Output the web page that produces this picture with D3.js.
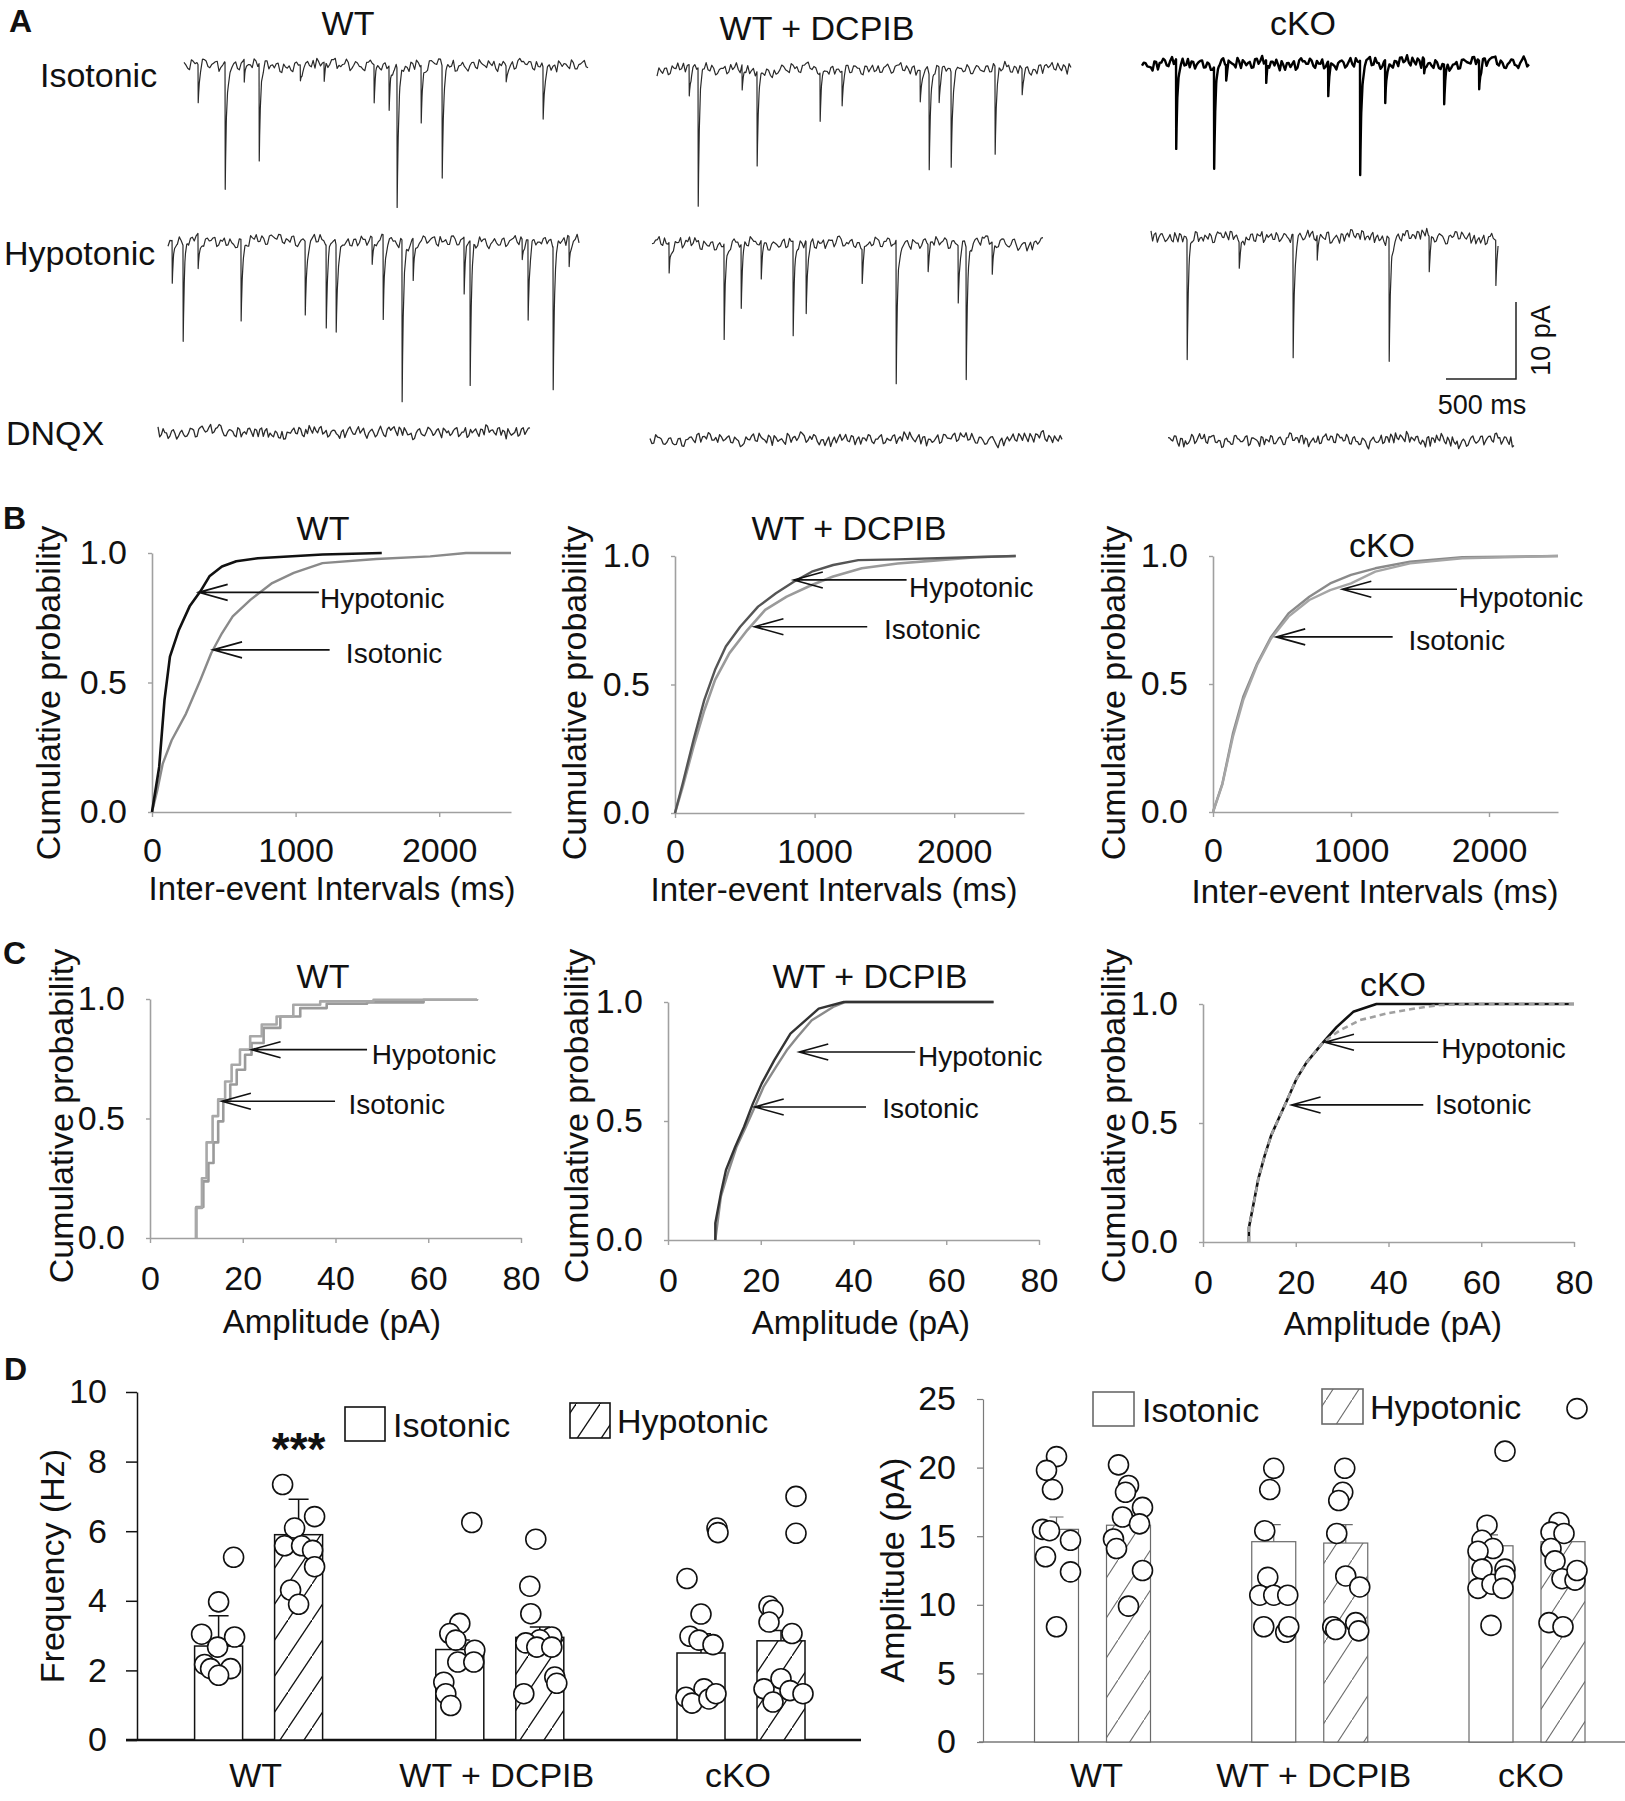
<!DOCTYPE html>
<html><head><meta charset="utf-8">
<script src="https://cdn.jsdelivr.net/npm/d3@7/dist/d3.min.js"></script>
<style>
html,body{margin:0;padding:0;background:#fff;}
svg text{font-family:"Liberation Sans",Arial,Helvetica,sans-serif;fill:#111;}
</style></head>
<body>
<svg id="fig" width="1625" height="1801" viewBox="0 0 1625 1801"></svg>
<script>
// ================= DATA =================
const groups = ["WT", "WT + DCPIB", "cKO"];
const conditions = ["Isotonic", "Hypotonic"];
const rowLabels = ["Isotonic", "Hypotonic", "DNQX"];

// Panel A: sweep durations (ms) and events [time ms, amplitude pA]
const traceDurIso  = [2886, 2957, 2764];
const traceDurHypo = [2936, 2793, 2479];
const traceDurDnqx = [2657, 2943, 2471];
const eventsIsoWT    = [[100,4.9],[293,16.5],[429,3],[536,12.7],[830,2.0],[1000,2.5],[1357,5],[1464,5.8],[1521,18],[1693,7.5],[1843,14.5],[2300,2.0],[2564,6.7]];
const eventsIsoDCPIB = [[229,4],[293,18],[607,3.3],[714,12.3],[1164,6.4],[1321,4.5],[1879,4],[1943,12.3],[2014,4.5],[2100,12.3],[2414,11.4],[2607,3.3]];
const eventsIsoCKO   = [[243,11.7],[514,13.2],[600,2],[886,3],[1329,4.5],[1557,14.9],[1736,5.6],[2014,1.8],[2157,5.2],[2407,3.7]];
const eventsHypoWT    = [[29,5.6],[107,12.6],[214,4.5],[521,10.6],[979,9.5],[1129,10.8],[1200,11.2],[1457,3.5],[1536,11],[1671,21],[1750,5.5],[2114,7.4],[2157,18.8],[2529,2.6],[2571,10.4],[2750,18.6],[2864,3.9]];
const eventsHypoDCPIB = [[121,4],[514,12.5],[636,8.3],[779,5],[1007,12.3],[1100,9.3],[1500,4.4],[1743,18.7],[1971,3.5],[2186,7.4],[2243,17.1],[2429,4.2]];
const eventsHypoCKO   = [[257,15.5],[629,3.3],[1014,16],[1186,3.3],[1700,16],[1986,4.6],[2462,5.9]];
const noiseIso = [0.4,-0.3,0.6,0.1,-0.2,0.7,0.3,-0.4,0.2,0.5,-0.1,0.6,-0.5,0.0,0.4,-0.6,0.3,0.1,-0.2,0.5,
 -0.3,0.2,0.6,-0.4,0.1,0.3,-0.5,0.4,0.0,-0.2,0.5,0.2,-0.6,0.3,-0.1,0.4,0.6,-0.3,0.1,-0.4,
 0.3,0.5,-0.2,0.0,0.7,-0.5,0.2,0.4,-0.1,-0.6,0.3,0.1,0.5,-0.3,0.2,-0.2,0.6,0.0,-0.4,0.4,
 0.2,-0.5,0.3,0.6,-0.2,0.1,-0.6,0.4,0.0,0.5,-0.3,0.2,-0.1,0.7,-0.4,0.3,0.1,-0.5,0.4,-0.2,
 0.6,0.0,-0.3,0.2,0.5,-0.6,0.1,0.3,-0.2,0.4,-0.4,0.6,0.2,-0.1,0.3,-0.5,0.0,0.5,-0.3,0.4,
 0.1,-0.6,0.3,0.2,-0.2,0.6,-0.4,0.1,0.4,-0.1];
const noiseHypo = [-0.2,0.5,0.1,-0.5,0.4,0.0,0.6,-0.3,0.2,-0.1,0.5,-0.6,0.3,0.1,-0.2,0.7,-0.4,0.2,0.0,0.4,
 -0.5,0.3,0.6,-0.1,0.2,-0.4,0.5,0.0,-0.3,0.6,0.1,-0.2,0.4,-0.6,0.3,0.2,-0.1,0.5,-0.4,0.1,
 0.6,-0.3,0.0,0.4,-0.5,0.2,0.7,-0.2,0.1,-0.4,0.5,0.3,-0.6,0.2,0.0,0.6,-0.3,0.4,-0.1,0.2,
 -0.5,0.5,0.1,-0.2,0.6,-0.4,0.3,0.0,-0.3,0.5,0.2,-0.6,0.4,0.1,-0.1,0.6,-0.3,0.2,0.5,-0.5,
 0.0,0.3,-0.2,0.7,-0.4,0.1,0.4,-0.1,0.2,-0.6,0.5,0.3,-0.3,0.0,0.6,-0.2,0.4,-0.5,0.1,0.3,
 -0.1,0.5,-0.4,0.2,0.6,-0.3,0.0,0.4,-0.2,0.3];
const noiseDnqx = [0.3,-0.4,0.2,0.6,-0.2,0.1,-0.5,0.4,0.2,-0.1,0.5,-0.3,0.0,0.4,-0.6,0.2,0.5,-0.2,0.3,-0.4,
 0.1,0.6,-0.1,-0.5,0.3,0.2,-0.3,0.5,0.0,-0.2,0.4,-0.6,0.1,0.3,-0.4,0.6,0.2,-0.1,0.4,-0.3,
 -0.5,0.2,0.0,0.5,-0.2,0.3,-0.6,-0.3,0.1,0.4,-0.2,0.6,0.0,-0.4,0.3,0.5,-0.1,0.2,-0.5,0.4,
 0.1,-0.3,0.6,0.2,-0.2,0.0,0.5,-0.4,0.3,0.1,-0.6,0.4,0.2,-0.1,0.5,-0.3,0.3,0.0,-0.5,0.2,
 0.6,-0.2,0.1,0.4,-0.4,0.2,-0.1,0.5,0.0,-0.3,0.3,0.6,-0.2,0.1,-0.5,0.4,0.2,-0.1,0.3,-0.4,
 0.5,0.0,-0.2,0.4,-0.3,0.2,0.6,-0.1,0.1,-0.4];
const baselineWander = [0.0,0.35,-0.2,0.45,0.1,-0.35,0.25,0.5,-0.15,0.3,-0.45,0.1,0.35,-0.25,0.2,-0.1,0.4,-0.3,0.15,0.0];
const scaleBarTime = 500, scaleBarAmp = 10;

// Panel B: cumulative inter-event intervals [ms, probability]
const ieiTicks = [0, 1000, 2000];
const probTicks = [0, 0.5, 1.0];
const ieiWTHypo = [[0,0],[50,0.174],[87,0.432],[125,0.6],[187,0.703],[262,0.794],[337,0.852],[400,0.91],[487,0.948],[587,0.968],[737,0.98],[1187,0.994],[1600,1.0]];
const ieiWTIso  = [[0,0],[37,0.084],[75,0.187],[137,0.277],[237,0.38],[337,0.51],[412,0.613],[487,0.69],[562,0.755],[687,0.82],[837,0.884],[987,0.923],[1187,0.961],[1562,0.977],[1937,0.987],[2187,1.0],[2500,1.0]];
const ieiDCPIBHypo = [[0,0],[56,0.117],[133,0.285],[210,0.44],[287,0.557],[364,0.648],[467,0.725],[595,0.803],[723,0.855],[851,0.9],[980,0.939],[1133,0.965],[1313,0.984],[1595,0.987],[2108,0.995],[2441,1.0]];
const ieiDCPIBIso  = [[0,0],[56,0.104],[133,0.259],[210,0.4],[287,0.518],[390,0.622],[518,0.712],[646,0.79],[800,0.842],[980,0.887],[1133,0.92],[1338,0.952],[1595,0.971],[1851,0.982],[2159,0.995],[2441,1.0]];
const ieiCKOHypo = [[0,0],[68,0.108],[144,0.293],[219,0.437],[320,0.574],[421,0.678],[547,0.763],[698,0.828],[849,0.867],[1000,0.893],[1176,0.939],[1428,0.971],[1806,0.991],[2500,1.0]];
const ieiCKOIso  = [[0,0],[68,0.111],[144,0.306],[219,0.45],[320,0.58],[421,0.684],[547,0.776],[698,0.841],[849,0.893],[1000,0.926],[1176,0.952],[1428,0.978],[1806,0.995],[2500,1.0]];

// Panel C: cumulative amplitudes [pA, probability]
const ampTicks = [0, 20, 40, 60, 80];
const ampWTHypo = [[9.9,0],[9.9,0.126],[11.2,0.25],[12.2,0.40],[13.5,0.51],[14.7,0.58],[16.2,0.655],[17.6,0.725],[19.4,0.788],[21.6,0.844],[24.1,0.893],[27.3,0.927],[30.9,0.976],[36.7,0.99],[48.2,0.997],[70.5,1.0]];
const ampWTIso  = [[10,0],[10,0.13],[11.5,0.237],[12.6,0.314],[13.7,0.40],[14.7,0.488],[15.8,0.572],[17.3,0.642],[18.7,0.704],[20.5,0.767],[21.9,0.816],[24.5,0.879],[28.1,0.927],[32.4,0.962],[38.1,0.98],[46.8,0.986],[59,0.997],[70.5,1.0]];
const ampDCPIBHypo = [[10.2,0],[10.2,0.07],[11.4,0.196],[12.5,0.294],[14.5,0.392],[16.4,0.476],[18.3,0.573],[20.2,0.657],[22.9,0.755],[26.4,0.867],[32.5,0.972],[37.9,1.0],[70.2,1.0]];
const ampDCPIBIso  = [[10.2,0],[11.4,0.182],[12.9,0.28],[14.8,0.392],[16.8,0.476],[18.7,0.559],[20.6,0.643],[23.3,0.727],[25.6,0.797],[27.9,0.853],[31,0.923],[35.6,0.979],[38.3,1.0],[70.2,1.0]];
const ampCKOHypo = [[9.9,0],[9.9,0.06],[10.8,0.15],[11.9,0.263],[13.3,0.363],[14.7,0.448],[16.5,0.526],[18,0.59],[20.1,0.683],[22.3,0.754],[25.9,0.839],[28.8,0.903],[32.4,0.967],[37.4,1.0],[80,1.0]];
const ampCKOIso  = [[9.9,0],[9.9,0.06],[10.8,0.15],[11.9,0.263],[13.3,0.363],[14.7,0.448],[16.5,0.526],[18,0.59],[20.1,0.683],[22.3,0.754],[25.9,0.839],[29.5,0.889],[33.8,0.932],[39.6,0.96],[46,0.982],[51,0.996],[59.7,1.0],[80,1.0]];

// arrow annotations: [tipX, tipP, lineEndX, textX, textP, label] in data units
const annB = [
  [[325,0.848,1162,1170,0.826,"Hypotonic"],[425,0.626,1237,1350,0.613,"Isotonic"]],
  [[851,0.907,1659,1677,0.878,"Hypotonic"],[569,0.725,1377,1497,0.715,"Isotonic"]],
  [[937,0.87,1768,1781,0.838,"Hypotonic"],[458,0.684,1302,1416,0.671,"Isotonic"]]];
const annC = [
  [[21.9,0.788,46.8,47.8,0.767,"Hypotonic"],[15.5,0.572,39.9,42.8,0.558,"Isotonic"]],
  [[28.3,0.79,53.3,53.9,0.769,"Hypotonic"],[18.7,0.559,42.7,46.2,0.552,"Isotonic"]],
  [[26.3,0.839,50.7,51.4,0.815,"Hypotonic"],[19.1,0.576,47.5,50.0,0.576,"Isotonic"]]];

// Panel D: frequency (Hz)
const freqTicks = [0,2,4,6,8,10];
const freqIsoMean  = [2.7, 2.6, 2.5];
const freqIsoErr   = [0.87, 0.27, 0.55];
const freqHypoMean = [5.9, 2.95, 2.85];
const freqHypoErr  = [1.02, 0.3, 0.3];
const freqIso  = [[5.25,3.97,3.04,2.96,2.67,2.17,2.05,2.05,1.86],[6.25,3.35,3.06,2.87,2.58,2.24,2.24,1.66,1.33,0.99],[6.09,5.96,4.64,3.62,2.98,2.87,2.74,1.47,1.23,1.06,1.18,1.33]];
const freqHypo = [[7.34,6.42,6.09,5.58,5.58,5.45,4.98,4.31,3.9],[5.77,4.42,3.63,2.96,2.88,2.79,2.67,2.67,1.81,1.63,1.33],[7.0,5.94,3.85,3.73,3.39,3.06,1.47,1.76,1.42,1.33,1.09]];
const freqSig = ["***", "", ""];
// Panel D: amplitude (pA)
const ampBarTicks = [0,5,10,15,20,25];
const ampIsoMean  = [15.5, 14.6, 14.3];
const ampIsoErr   = [0.9, 1.25, 0.8];
const ampHypoMean = [15.8, 14.5, 14.6];
const ampHypoErr  = [0.5, 1.35, 0.7];
const ampIso  = [[20.8,19.8,18.4,15.5,15.4,14.7,13.5,12.4,8.4],[19.95,18.4,15.4,12.0,10.7,10.7,10.7,8.4,8.0,8.4],[21.2,15.8,14.7,14.1,13.9,12.6,12.6,11.2,11.5,12.1,11.2,8.5]];
const ampHypo = [[20.2,18.7,18.2,17.1,16.4,15.9,14.8,14.1,12.5,9.9],[19.95,18.2,17.6,15.2,12.1,11.3,8.4,8.7,8.1,8.2],[24.3,16.0,15.3,15.2,14.1,13.2,11.9,11.8,12.5,8.7,8.4]];

// ================= LAYOUT (positions / style) =================
const freqIsoJitter  = [[15,0,-17,16,-1,-14,-8,12,0],[12,0,-10,-4,15,-2,14,-16,-14,-9],[16,17,-14,0,-11,-2,12,3,-15,-9,8,15]];
const freqHypoJitter = [[-16,16,-4,-14,3,14,16,-8,0],[-4,-10,-9,12,0,-14,-3,12,15,17,-16],[15,15,-12,-8,-12,11,-17,0,9,22,-8]];
const ampIsoJitter   = [[0,-10,-4,-14,-7,14,-11,14,0],[0,-4,-9,-6,-14,0,14,-10,12,15],[14,-4,-9,2,-13,-9,14,-13,1,14,12,0]];
const ampHypoJitter  = [[-10,0,-3,14,-6,11,-15,-12,14,0],[-1,-3,-7,-9,0,14,-13,10,13,-10],[14,-4,-12,1,-12,-8,-1,12,14,-14,0]];

const FONT = '"Liberation Sans", Arial, Helvetica, sans-serif';
const svg = d3.select("#fig");
svg.append("rect").attr("width",1625).attr("height",1801).attr("fill","#fff");
const defs = svg.append("defs");

function label(x, y, s, size, anchor="start", weight="normal", rot=0, fill="#111") {
  const t = svg.append("text").attr("x",x).attr("y",y).attr("font-size",size)
    .attr("text-anchor",anchor).attr("dominant-baseline","central")
    .attr("font-weight",weight).attr("fill",fill).text(s);
  if (rot) t.attr("transform",`rotate(${rot},${x},${y})`);
  return t;
}

// Panel letters
label(9, 21, "A", 32, "start", "bold");
label(3, 518, "B", 32, "start", "bold");
label(3, 953, "C", 32, "start", "bold");
label(4, 1369, "D", 32, "start", "bold");

// ================= PANEL A =================
const colTitleX = [348, 817, 1303], colTitleY = [23, 28, 23];
groups.forEach((g,i) => label(colTitleX[i], colTitleY[i], g, 34, "middle"));
const rowLabelX = [40, 4, 6], rowLabelY = [75, 253, 433];
rowLabels.forEach((r,i) => label(rowLabelX[i], rowLabelY[i], r, 34));

function kernel(d){ if (d < 0) return 0; if (d < 1.5) return d/1.5; return Math.exp(-(d-1.5)/10); }
const sampleOffsets = [0, 1.5, 4, 9, 18, 35, 60];
// interleave two typed noise records to get a dense noise sequence
function interleave(a, b, sa, sb) {
  const out = [];
  for (let k = 0; k < a.length; k++) { out.push(a[(k + sa) % a.length]); out.push(b[(k + sb) % b.length]); }
  return out;
}
function drawTrace(x0, base, dur, events, noise, wanderShift, color, width) {
  const xs = d3.scaleLinear().domain([0, scaleBarTime]).range([x0, x0 + 70]);
  const ys = d3.scaleLinear().domain([0, -scaleBarAmp]).range([base, base + 77]);
  const n = noise.length, m = baselineWander.length;
  let ts = d3.range(n).map(i => i * dur / (n - 1));
  events.forEach(([t0]) => sampleOffsets.forEach(o => { if (t0 + o < dur) ts.push(t0 + o); }));
  ts = Array.from(new Set(ts.map(t => +t.toFixed(3)))).sort((a,b) => a - b);
  const interp = (arr, t, shift) => { const L = arr.length; const f = t / dur * (L - 1); const i = Math.min(Math.floor(f), L - 1); const r = f - i;
    const a = arr[(i + shift) % L], b = arr[(Math.min(i + 1, L - 1) + shift) % L]; return a * (1 - r) + b * r; };
  const val = t => 1.15 * interp(noise, t, 0) + interp(baselineWander, t, wanderShift) - d3.sum(events, ([t0, a]) => a * kernel(t - t0));
  svg.append("path").datum(ts)
    .attr("d", d3.line().x(t => xs(t)).y(t => ys(val(t))))
    .attr("fill","none").attr("stroke",color).attr("stroke-width",width)
    .attr("stroke-linejoin","round");
}
const isoX0 = [184, 657, 1142], isoBase = [66, 70, 64];
const hypoX0 = [168, 652, 1151], hypoBase = [242, 244, 238];
const dnqxX0 = [158, 650, 1168], dnqxBase = [433, 440, 441];
const eventsIso = [eventsIsoWT, eventsIsoDCPIB, eventsIsoCKO];
const eventsHypo = [eventsHypoWT, eventsHypoDCPIB, eventsHypoCKO];
[0,1,2].forEach(i => {
  drawTrace(isoX0[i], isoBase[i], traceDurIso[i], eventsIso[i], interleave(noiseIso, noiseDnqx, i*23, i*11+5), i*5,
            i===2 ? "#000" : "#2a2a2a", i===2 ? 2.4 : 1.2);
  drawTrace(hypoX0[i], hypoBase[i], traceDurHypo[i], eventsHypo[i], interleave(noiseHypo, noiseIso, i*31+7, i*13+40), i*5+2, "#2a2a2a", 1.2);
  drawTrace(dnqxX0[i], dnqxBase[i], traceDurDnqx[i], [], interleave(noiseDnqx, noiseHypo, i*19+3, i*29+60), i*5+4, "#2a2a2a", 1.3);
});
// scale bar
{
  const sx = d3.scaleLinear().domain([0, scaleBarTime]).range([0, 70]);
  const sy = d3.scaleLinear().domain([0, scaleBarAmp]).range([0, 77]);
  const cx = 1516, cy = 379;
  svg.append("path").attr("d", `M${cx - sx(scaleBarTime)},${cy}H${cx}V${cy - sy(scaleBarAmp)}`)
    .attr("fill","none").attr("stroke","#222").attr("stroke-width",1.5);
  label(cx - sx(scaleBarTime)/2 + 1, 405, scaleBarTime + " ms", 27, "middle");
  label(1541, cy - sy(scaleBarAmp)/2, scaleBarAmp + " pA", 27, "middle", "normal", -90);
}

// ================= PANELS B & C =================
function cdfPanel(cfg) {
  const x = d3.scaleLinear().domain(cfg.xDomain).range([cfg.x0, cfg.x1]);
  const y = d3.scaleLinear().domain([0, 1]).range([cfg.y0, cfg.y1]);
  const g = svg.append("g");
  const xa = g.append("g").attr("transform", `translate(0,${cfg.y0})`)
    .call(d3.axisBottom(x).tickValues(cfg.xTicks).tickSize(5).tickSizeOuter(0).tickPadding(cfg.xPad).tickFormat(d3.format("d")));
  const ya = g.append("g").attr("transform", `translate(${cfg.x0},0)`)
    .call(d3.axisLeft(y).tickValues(probTicks).tickSize(4).tickSizeOuter(0).tickPadding(21).tickFormat(d3.format(".1f")));
  [xa, ya].forEach(a => {
    a.select(".domain").attr("stroke","#a0a0a0").attr("stroke-width",1.6);
    a.selectAll(".tick line").attr("stroke","#a0a0a0").attr("stroke-width",1.4);
    a.selectAll("text").attr("font-size",34).attr("fill","#111").style("font-family",FONT);
  });
  cfg.series.forEach(s => {
    g.append("path").datum(s.data)
      .attr("d", d3.line().x(d => x(d[0])).y(d => y(d[1])).curve(s.curve || d3.curveLinear))
      .attr("fill","none").attr("stroke",s.color).attr("stroke-width",s.width)
      .attr("stroke-dasharray", s.dash || null).attr("stroke-linejoin","round");
  });
  cfg.ann.forEach(([tx, tp, ex, textX, textP, lab]) => {
    const X = x(tx), Y = y(tp);
    g.append("path").attr("d", `M${x(ex)},${Y}H${X}M${X + 29},${Y - 8}L${X},${Y}L${X + 29},${Y + 8}`)
      .attr("fill","none").attr("stroke","#111").attr("stroke-width",1.6);
    g.append("text").attr("x", x(textX)).attr("y", y(textP)).attr("font-size",28)
      .attr("dominant-baseline","central").text(lab);
  });
  label(cfg.title[0], cfg.title[1], cfg.titleText, 34, "middle");
  label(cfg.xLab[0], cfg.xLab[1], cfg.xLabText, 33, "middle");
  label(cfg.yLab[0], cfg.yLab[1], "Cumulative probability", 34, "middle", "normal", -90);
}

const bLayout = [
  {x0:152, x1:511, y0:812, y1:553, title:[323,528], xLab:[332,888], yLab:[48,693]},
  {x0:675, x1:1024, y0:813, y1:556, title:[849,528], xLab:[834,889], yLab:[574,693]},
  {x0:1213, x1:1558, y0:812, y1:556, title:[1382,545], xLab:[1375,891], yLab:[1113,693]}];
const bSeries = [
  [{data: ieiWTIso, color:"#8a8a8a", width:2.4}, {data: ieiWTHypo, color:"#111", width:2.6}],
  [{data: ieiDCPIBIso, color:"#9a9a9a", width:2.6}, {data: ieiDCPIBHypo, color:"#555", width:2.4}],
  [{data: ieiCKOIso, color:"#8a8a8a", width:2.4}, {data: ieiCKOHypo, color:"#a5a5a5", width:2.4}]];
bLayout.forEach((L, i) => cdfPanel(Object.assign({}, L, {
  xDomain:[0,2500], xTicks: ieiTicks, series: bSeries[i], ann: annB[i], xPad: 21,
  titleText: groups[i], xLabText: "Inter-event Intervals (ms)"})));

const cLayout = [
  {x0:150, x1:521, y0:1238, y1:999, title:[323,976], xLab:[332,1321], yLab:[61,1116]},
  {x0:668, x1:1039, y0:1240, y1:1002, title:[870,976], xLab:[861,1322], yLab:[576,1116]},
  {x0:1203, x1:1574, y0:1242, y1:1004, title:[1393,984], xLab:[1393,1323], yLab:[1113,1116]}];
const cSeries = [
  [{data: ampWTIso, color:"#9a9a9a", width:2.6, curve:d3.curveStepAfter}, {data: ampWTHypo, color:"#a8a8a8", width:2.6, curve:d3.curveStepAfter}],
  [{data: ampDCPIBIso, color:"#8a8a8a", width:2.4}, {data: ampDCPIBHypo, color:"#333", width:2.4}],
  [{data: ampCKOHypo, color:"#111", width:2.6}, {data: ampCKOIso, color:"#a0a0a0", width:2.6, dash:"6 4"}]];
cLayout.forEach((L, i) => cdfPanel(Object.assign({}, L, {
  xDomain:[0,80], xTicks: ampTicks, series: cSeries[i], ann: annC[i], xPad: 23,
  titleText: groups[i], xLabText: "Amplitude (pA)"})));

// ================= PANEL D =================
function hatch(id, w, h, color, sw) {
  const p = defs.append("pattern").attr("id", id).attr("patternUnits","userSpaceOnUse")
    .attr("width", w).attr("height", h);
  p.append("rect").attr("width", w).attr("height", h).attr("fill","#fff");
  const k = h / w;
  p.append("path").attr("d", `M${-4},${h + 4*k}L${w + 4},${-4*k}`)
    .attr("stroke", color).attr("stroke-width", sw);
}
hatch("hatchL", 24, 36, "#111", 1.3);
hatch("hatchR", 26, 40, "#6a6a6a", 1.1);

function barPanel(cfg) {
  const y = d3.scaleLinear().domain(cfg.yDomain).range([cfg.y0, cfg.y1]);
  const xg = d3.scalePoint().domain(groups).range(cfg.groupRange);
  const g = svg.append("g");
  const ya = g.append("g").attr("transform", `translate(${cfg.x0},0)`)
    .call(d3.axisLeft(y).tickValues(cfg.ticks).tickSize(cfg.tick).tickSizeOuter(0).tickPadding(cfg.pad));
  ya.select(".domain").attr("stroke", cfg.axisColor).attr("stroke-width", cfg.axisW);
  ya.selectAll(".tick line").attr("stroke", cfg.axisColor).attr("stroke-width", cfg.axisW);
  ya.selectAll("text").attr("font-size",34).attr("fill","#111").style("font-family",FONT);
  g.append("line").attr("x1", cfg.baseStart).attr("x2", cfg.baseEnd).attr("y1", y(0)).attr("y2", y(0))
    .attr("stroke", cfg.baseColor).attr("stroke-width", cfg.baseW);

  const sets = [
    {mean: cfg.isoMean, err: cfg.isoErr, pts: cfg.isoPts, jit: cfg.isoJit, off: -cfg.offset, fill:"#fff"},
    {mean: cfg.hypoMean, err: cfg.hypoErr, pts: cfg.hypoPts, jit: cfg.hypoJit, off: cfg.offset, fill:`url(#${cfg.hatchId})`}];
  sets.forEach(s => {
    groups.forEach((grp, i) => {
      const cx = xg(grp) + s.off;
      g.append("rect").attr("x", cx - cfg.barW/2).attr("y", y(s.mean[i]))
        .attr("width", cfg.barW).attr("height", y(0) - y(s.mean[i]))
        .attr("fill", s.fill).attr("stroke", cfg.barStroke).attr("stroke-width", cfg.barSW);
      const ye = y(s.mean[i] + s.err[i]);
      g.append("path").attr("d", `M${cx},${y(s.mean[i])}V${ye}M${cx - cfg.cap},${ye}H${cx + cfg.cap}`)
        .attr("stroke", cfg.barStroke).attr("stroke-width", cfg.barSW).attr("fill","none");
    });
  });
  sets.forEach(s => {
    groups.forEach((grp, i) => {
      const cx = xg(grp) + s.off;
      g.selectAll(null).data(s.pts[i]).enter().append("circle")
        .attr("cx", (d, j) => cx + s.jit[i][j]).attr("cy", d => y(d))
        .attr("r", 10).attr("fill","#fff").attr("stroke","#111").attr("stroke-width",1.6);
    });
  });
  groups.forEach(grp => label(xg(grp) + cfg.catShift, 1775, grp, 34, "middle"));
  // legend
  g.append("rect").attr("x", cfg.leg[0]).attr("y", cfg.leg[1]).attr("width", cfg.leg[2]).attr("height", cfg.leg[3])
    .attr("fill","#fff").attr("stroke", cfg.barStroke).attr("stroke-width", 1.6);
  label(cfg.leg[0] + cfg.leg[2] + 8, cfg.leg[1] + cfg.leg[3]/2 + 1, conditions[0], 34);
  g.append("rect").attr("x", cfg.leg[4]).attr("y", cfg.leg[5]).attr("width", cfg.leg[2]).attr("height", cfg.leg[3] + 1)
    .attr("fill", `url(#${cfg.hatchId})`).attr("stroke", cfg.barStroke).attr("stroke-width", 1.6);
  label(cfg.leg[4] + cfg.leg[2] + 7, cfg.leg[5] + cfg.leg[3]/2 + 1, conditions[1], 34);
  label(cfg.yLab[0], cfg.yLab[1], cfg.yLabText, 34, "middle", "normal", -90);
  return {xg, y};
}

const left = barPanel({
  yDomain:[0,10], y0:1740, y1:1392, x0:137, ticks:freqTicks, tick:11, pad:19,
  axisColor:"#111", axisW:1.5, baseStart:126, baseEnd:861, baseColor:"#111", baseW:2.4,
  groupRange:[258.6, 741], offset:40, barW:48, cap:10, barStroke:"#111", barSW:1.5,
  isoMean:freqIsoMean, isoErr:freqIsoErr, isoPts:freqIso, isoJit:freqIsoJitter,
  hypoMean:freqHypoMean, hypoErr:freqHypoErr, hypoPts:freqHypo, hypoJit:freqHypoJitter,
  hatchId:"hatchL", catShift:-3, leg:[345,1407,40,34,570,1403], yLab:[52,1566], yLabText:"Frequency (Hz)"});
groups.forEach((grp, i) => {
  if (freqSig[i]) svg.append("text").attr("x", left.xg(grp) + 40).attr("y", left.y(freqHypoMean[i] + freqHypoErr[i]) + 6 - 40)
    .attr("font-size", 46).attr("font-weight","bold").attr("text-anchor","middle").text(freqSig[i]);
});

barPanel({
  yDomain:[0,25], y0:1742, y1:1399, x0:983, ticks:ampBarTicks, tick:6, pad:21,
  axisColor:"#7a7a7a", axisW:1.2, baseStart:979, baseEnd:1625, baseColor:"#7a7a7a", baseW:1.4,
  groupRange:[1092.5, 1527], offset:36, barW:44, cap:7, barStroke:"#6a6a6a", barSW:1.2,
  isoMean:ampIsoMean, isoErr:ampIsoErr, isoPts:ampIso, isoJit:ampIsoJitter,
  hypoMean:ampHypoMean, hypoErr:ampHypoErr, hypoPts:ampHypo, hypoJit:ampHypoJitter,
  hatchId:"hatchR", catShift:4, leg:[1093,1392,41,34,1322,1389], yLab:[892,1570], yLabText:"Amplitude (pA)"});
</script>
</body></html>
